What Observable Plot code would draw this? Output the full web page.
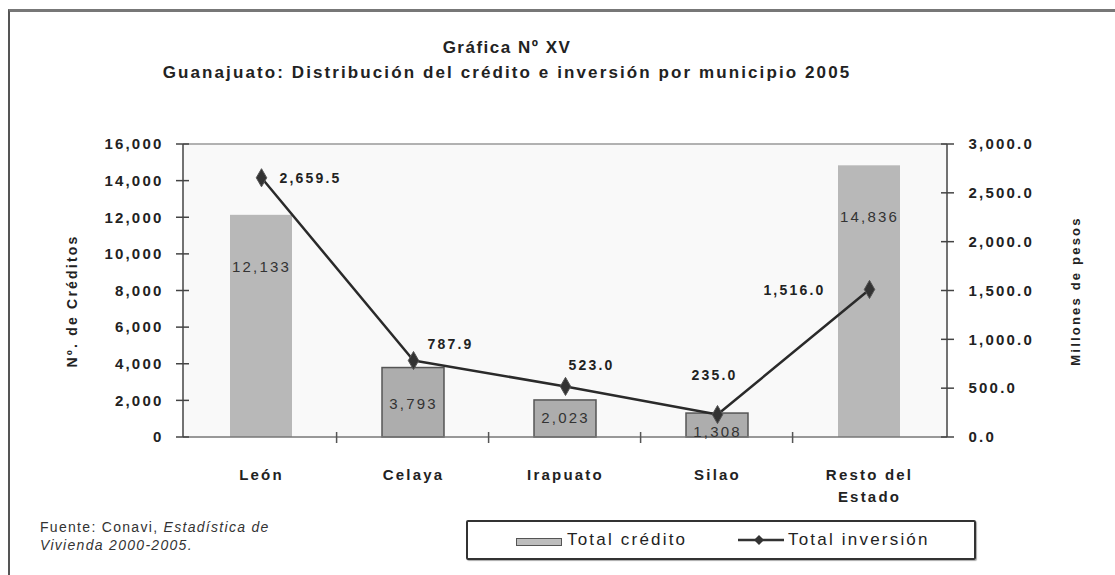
<!DOCTYPE html>
<html><head><meta charset="utf-8">
<script src="https://cdn.jsdelivr.net/npm/d3@7"></script>
<script src="https://cdn.jsdelivr.net/npm/@observablehq/plot@0.6"></script>
<style>
body{margin:0;background:#fff;}
#wrap{position:relative;width:1115px;height:575px;overflow:hidden;font-family:"Liberation Sans",Arial,sans-serif;color:#222;}
#border{position:absolute;left:8px;top:9px;width:1200px;height:700px;border-left:2px solid #555;border-top:3px solid #777;}
#chart{position:absolute;left:0;top:0;}
.ttl{position:absolute;left:0;width:1014px;text-align:center;font-weight:bold;font-size:17px;line-height:20px;}
#title{top:38px;letter-spacing:1.5px;}
#subtitle{top:63px;letter-spacing:2.1px;}
#source{position:absolute;left:40px;top:518px;font-size:14px;line-height:18px;color:#333;letter-spacing:1.3px;}
#legend{position:absolute;left:466px;top:520px;width:506px;height:36px;border:2px solid #333;border-radius:2px;box-shadow:1px 1px 1px #aaa;}
#legend .item{position:absolute;top:0;line-height:36px;font-size:17px;letter-spacing:2.2px;color:#222;}
#legend .swbar{position:absolute;left:48px;top:16px;width:44px;height:6px;background:#bdbdbd;border:1px solid #555;}
#legend svg{position:absolute;left:268px;top:8px;}
</style></head><body>
<div id="wrap">
  <div id="border"></div>
  <div id="chart"></div>
  <div id="title" class="ttl">Gráfica Nº XV</div>
  <div id="subtitle" class="ttl">Guanajuato: Distribución del crédito e inversión por municipio 2005</div>
  <div id="source">Fuente: Conavi, <i>Estadística de</i><br><i>Vivienda 2000-2005.</i></div>
  <div id="legend">
    <div class="swbar"></div>
    <div class="item" style="left:99px">Total crédito</div>
    <svg width="50" height="20"><line x1="2" y1="10" x2="48" y2="10" stroke="#333" stroke-width="2.5"/><path d="M23,5 L28,10 L23,15 L18,10 Z" fill="#333"/></svg>
    <div class="item" style="left:320px">Total inversión</div>
  </div>
</div>
<script>
const municipios = ["León", "Celaya", "Irapuato", "Silao", "Resto del Estado"];
const totalCredito = [12133, 3793, 2023, 1308, 14836];
const totalInversion = [2659.5, 787.9, 523.0, 235.0, 1516.0];
const creditoTicks = [0, 2000, 4000, 6000, 8000, 10000, 12000, 14000, 16000];
const inversionTicks = [0, 500, 1000, 1500, 2000, 2500, 3000];

const creditoMax = 16000, inversionMax = 3000;
const ratio = creditoMax / inversionMax;

const data = municipios.map((m, i) => ({m, credito: totalCredito[i], inversion: totalInversion[i]}));

// label placement (style, not data)
const barLabelDy = {"León": 52, "Celaya": 36, "Irapuato": 18, "Silao": 19, "Resto del Estado": 51};
const lineLabelPos = {
  "León": {anchor: "start", dx: 18, dy: 1},
  "Celaya": {anchor: "start", dx: 14, dy: -16},
  "Irapuato": {anchor: "middle", dx: 26, dy: -21},
  "Silao": {anchor: "middle", dx: -3, dy: -39},
  "Resto del Estado": {anchor: "end", dx: -44, dy: 1}
};

// custom mark: axis lines and crossing ticks drawn with the plot's scales
function axesDecor(index, scales, values, dims) {
  const g = d3.create("svg:g");
  const L = dims.marginLeft, R = dims.width - dims.marginRight;
  const T = dims.marginTop, B = dims.height - dims.marginBottom;
  g.append("line").attr("x1", L).attr("x2", R).attr("y1", T).attr("y2", T).attr("stroke", "#999").attr("stroke-width", 1.5);
  g.append("line").attr("x1", L).attr("x2", R).attr("y1", B).attr("y2", B).attr("stroke", "#777").attr("stroke-width", 1.5);
  g.append("line").attr("x1", L).attr("x2", L).attr("y1", T).attr("y2", B).attr("stroke", "#444").attr("stroke-width", 1.5);
  g.append("line").attr("x1", R).attr("x2", R).attr("y1", T).attr("y2", B).attr("stroke", "#444").attr("stroke-width", 1.5);
  for (const v of creditoTicks) {
    const y = scales.y(v);
    g.append("line").attr("x1", L - 7).attr("x2", L + 6).attr("y1", y).attr("y2", y).attr("stroke", "#444").attr("stroke-width", 1.5);
  }
  for (const v of inversionTicks) {
    const y = scales.y(v * ratio);
    g.append("line").attr("x1", R - 6).attr("x2", R + 7).attr("y1", y).attr("y2", y).attr("stroke", "#444").attr("stroke-width", 1.5);
  }
  const step = (R - L) / municipios.length;
  municipios.slice(1).forEach(m => {
    const x = scales.x(m) + scales.x.bandwidth() / 2 - step / 2;
    g.append("line").attr("x1", x).attr("x2", x).attr("y1", B - 5).attr("y2", B + 6).attr("stroke", "#555").attr("stroke-width", 1.5);
  });
  return g.node();
}

const plot = Plot.plot({
  width: 1115,
  height: 575,
  marginLeft: 183,
  marginRight: 168,
  marginTop: 144,
  marginBottom: 138,
  style: {fontFamily: "'Liberation Sans', Arial, sans-serif", fontSize: "15px", fontWeight: "bold", letterSpacing: "2.2px", color: "#222", background: "transparent"},
  x: {domain: municipios, paddingInner: 0.59, paddingOuter: 0.295, label: null},
  y: {domain: [0, creditoMax], label: null},
  marks: [
    Plot.frame({fill: "#f9f9f9", stroke: null}),
    Plot.barY(data, {filter: d => d.credito >= 5000, x: "m", y: "credito", fill: "#b8b8b8"}),
    Plot.barY(data, {filter: d => d.credito < 5000, x: "m", y: "credito", fill: "#adadad", stroke: "#555", strokeWidth: 1.5}),
    axesDecor,
    ...municipios.map(m => Plot.text(data, {
      filter: d => d.m === m, x: "m", y: "credito", text: d => d3.format(",")(d.credito),
      dy: barLabelDy[m], fill: "#333", fontWeight: "normal", fontSize: 15
    })),
    Plot.line(data, {x: "m", y: d => d.inversion * ratio, stroke: "#2a2a2a", strokeWidth: 2.5}),
    Plot.dot(data, {x: "m", y: d => d.inversion * ratio, symbol: "diamond", r: 5.5, fill: "#333", stroke: "#555", strokeWidth: 1}),
    ...municipios.map(m => Plot.text(data, {
      filter: d => d.m === m, x: "m", y: d => d.inversion * ratio, text: d => d3.format(",.1f")(d.inversion),
      textAnchor: lineLabelPos[m].anchor, dx: lineLabelPos[m].dx, dy: lineLabelPos[m].dy, fill: "#222", fontSize: 14
    })),
    Plot.axisY(creditoTicks, {anchor: "left", tickSize: 0, tickPadding: 20, tickFormat: d3.format(","), label: null, fill: "#222"}),
    Plot.axisY(inversionTicks.map(v => v * ratio), {anchor: "right", tickSize: 0, tickPadding: 21, tickFormat: d => d3.format(",.1f")(d / ratio), label: null, fill: "#222"}),
    Plot.axisX({tickSize: 0, tickPadding: 27, lineHeight: 1.45, tickFormat: d => d === "Resto del Estado" ? "Resto del\nEstado" : d, label: null, fill: "#222"}),
    Plot.text(["Nº. de Créditos"], {frameAnchor: "left", textAnchor: "middle", rotate: -90, dx: -111, dy: 10, fontSize: 14, fill: "#222"}),
    Plot.text(["Millones de pesos"], {frameAnchor: "right", textAnchor: "middle", rotate: -90, dx: 128, fontSize: 13, fill: "#222"})
  ]
});
document.getElementById("chart").appendChild(plot);
</script>
</body></html>
